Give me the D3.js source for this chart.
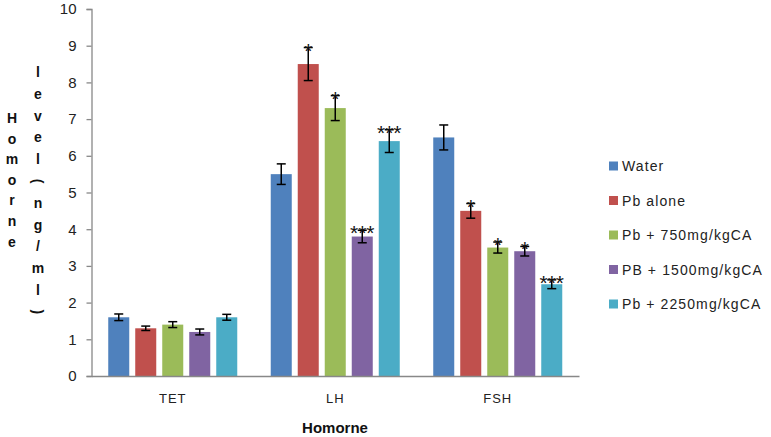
<!DOCTYPE html>
<html>
<head>
<meta charset="utf-8">
<script src="https://cdn.jsdelivr.net/npm/d3@7"></script>
<style>
  body { margin: 0; background: #fff; }
  svg { display: block; font-family: "Liberation Sans", Arial, sans-serif; }
</style>
</head>
<body>
<div id="chart"></div>
<script>
const categories = ["TET", "LH", "FSH"];
const seriesNames = ["Water", "Pb alone", "Pb + 750mg/kgCA", "PB + 1500mg/kgCA", "Pb + 2250mg/kgCA"];
const colors = ["#4F81BD", "#C0504D", "#9BBB59", "#8064A2", "#4BACC6"];
// values per series, in category order TET, LH, FSH
const values = [
    [1.6, 5.5, 6.5],
    [1.3, 8.5, 4.5],
    [1.4, 7.3, 3.5],
    [1.2, 3.8, 3.4],
    [1.6, 6.4, 2.5]
];
const errors = [
    [0.09, 0.28, 0.34],
    [0.06, 0.45, 0.2],
    [0.08, 0.34, 0.15],
    [0.08, 0.17, 0.13],
    [0.08, 0.31, 0.12]
];
const stars = [
    ["", "", ""],
    ["", "*", "*"],
    ["", "*", "*"],
    ["", "***", "*"],
    ["", "***", "***"]
];
const yTicks = [0, 1, 2, 3, 4, 5, 6, 7, 8, 9, 10];
const yTitle1 = "Homorne";
const yTitle2 = "level(ng/ml)";

const width = 771, height = 437;
const svg = d3.select("#chart").append("svg")
    .attr("width", width)
    .attr("height", height);

const x0 = d3.scaleBand().domain(categories).range([91.5, 579]).padding(0);
const x1 = d3.scaleBand().domain(d3.range(seriesNames.length))
    .range([0, x0.bandwidth()]).paddingInner(0.222).paddingOuter(0.62);
const y = d3.scaleLinear().domain([0, 10]).range([376, 9]);

// y axis
const yAxis = svg.append("g")
    .attr("transform", "translate(91.5,0)")
    .call(d3.axisLeft(y).tickValues(yTicks).tickSize(5).tickPadding(10));
yAxis.select(".domain").attr("stroke", "#888").attr("stroke-width", 1.3);
yAxis.selectAll(".tick line").attr("stroke", "#888").attr("stroke-width", 1.3);
yAxis.selectAll(".tick text").attr("font-size", 15).attr("fill", "#222");

// bars
const group = svg.append("g").selectAll("g")
    .data(seriesNames)
    .join("g");

group.each(function (name, s) {
    const g = d3.select(this);
    const rows = categories.map((c, i) => ({ c, v: values[s][i], e: errors[s][i], st: stars[s][i] }));
    g.selectAll("rect")
        .data(rows)
        .join("rect")
        .attr("x", d => x0(d.c) + x1(s))
        .attr("y", d => y(d.v))
        .attr("width", x1.bandwidth())
        .attr("height", d => y(0) - y(d.v))
        .attr("fill", colors[s]);

    const cx = d => x0(d.c) + x1(s) + x1.bandwidth() / 2;
    g.selectAll("line.err")
        .data(rows)
        .join("line")
        .attr("class", "err")
        .attr("x1", cx).attr("x2", cx)
        .attr("y1", d => y(d.v + d.e)).attr("y2", d => y(d.v - d.e))
        .attr("stroke", "#000").attr("stroke-width", 1.5);
    g.selectAll("line.capt")
        .data(rows)
        .join("line")
        .attr("class", "capt")
        .attr("x1", d => cx(d) - 4.5).attr("x2", d => cx(d) + 4.5)
        .attr("y1", d => y(d.v + d.e)).attr("y2", d => y(d.v + d.e))
        .attr("stroke", "#000").attr("stroke-width", 1.5);
    g.selectAll("line.capb")
        .data(rows)
        .join("line")
        .attr("class", "capb")
        .attr("x1", d => cx(d) - 4.5).attr("x2", d => cx(d) + 4.5)
        .attr("y1", d => y(d.v - d.e)).attr("y2", d => y(d.v - d.e))
        .attr("stroke", "#000").attr("stroke-width", 1.5);
    g.selectAll("text.star")
        .data(rows.filter(d => d.st))
        .join("text")
        .attr("class", "star")
        .attr("x", cx)
        .attr("y", d => y(d.v + d.e) + 10)
        .attr("text-anchor", "middle")
        .attr("font-size", 21)
        .attr("fill", "#111")
        .text(d => d.st);
});

// x axis
const xAxis = svg.append("g")
    .attr("transform", "translate(0,376)")
    .call(d3.axisBottom(x0).tickSize(0).tickPadding(18));
xAxis.select(".domain").attr("stroke", "#888").attr("stroke-width", 1.5);
xAxis.selectAll(".tick text").attr("font-size", 13).attr("letter-spacing", 1).attr("fill", "#222");

svg.append("text")
    .attr("x", 335).attr("y", 433)
    .attr("text-anchor", "middle")
    .attr("font-size", 15).attr("font-weight", "bold")
    .attr("fill", "#111")
    .text("Homorne");

// y title: one character per line, two columns
function stackText(str, x, yStart, step) {
    const t = svg.append("g");
    str.split("").forEach((ch, i) => {
        const yy = yStart + i * step;
        const el = t.append("text")
            .attr("x", x).attr("y", yy)
            .attr("text-anchor", "middle")
            .attr("dominant-baseline", "central")
            .attr("font-size", 14).attr("font-weight", "bold")
            .attr("fill", "#111")
            .text(ch);
        if (ch === "(" || ch === ")") el.attr("transform", `rotate(90,${x},${yy})`);
    });
}
stackText(yTitle1, 12, 118, 20.6);
stackText(yTitle2, 38, 72, 21.8);

// legend
const legend = svg.append("g").selectAll("g")
    .data(seriesNames)
    .join("g")
    .attr("transform", (d, i) => `translate(609,${166 + i * 34.5})`);
legend.append("rect")
    .attr("x", 0).attr("y", -4.5)
    .attr("width", 9).attr("height", 9)
    .attr("fill", (d, i) => colors[i]);
legend.append("text")
    .attr("x", 13).attr("y", 0)
    .attr("dominant-baseline", "central")
    .attr("font-size", 14).attr("letter-spacing", 1.1).attr("fill", "#222")
    .text(d => d);
</script>
</body>
</html>
